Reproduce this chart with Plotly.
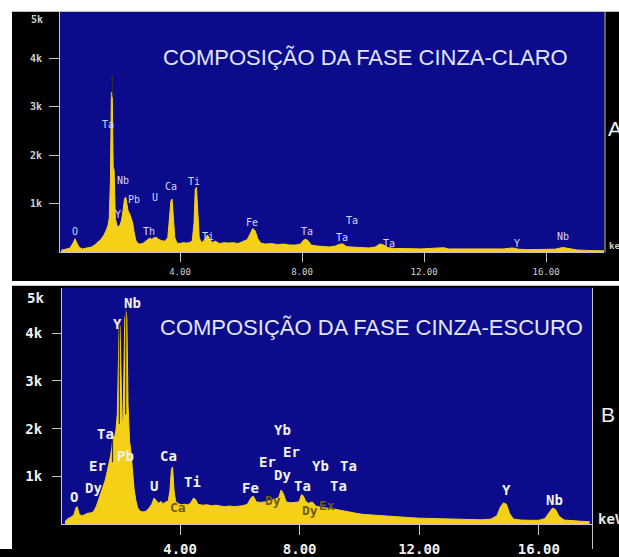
import plotly.graph_objects as go

W, H = 619, 557

# ---------------- data: spectrum A (fase cinza-claro) ----------------
a_energy = [0.10, 0.20, 0.30, 0.40, 0.50, 0.56, 0.62, 0.70, 0.80, 0.90, 1.00, 1.10, 1.20, 1.30,
            1.40, 1.50, 1.58, 1.64, 1.68, 1.72, 1.75, 1.78, 1.81, 1.84, 1.88, 1.93, 1.98, 2.03,
            2.08, 2.13, 2.18, 2.22, 2.26, 2.30, 2.35, 2.40, 2.45, 2.50, 2.55, 2.62, 2.70, 2.80,
            2.90, 3.00, 3.08, 3.15, 3.22, 3.30, 3.40, 3.50, 3.60, 3.66, 3.70, 3.74, 3.78, 3.83,
            3.90, 4.00, 4.10, 4.20, 4.30, 4.40, 4.46, 4.50, 4.54, 4.58, 4.63, 4.70, 4.80, 4.90,
            4.96, 5.05, 5.15, 5.30, 5.45, 5.60, 5.75, 5.90, 6.05, 6.20, 6.30, 6.38, 6.46, 6.55,
            6.65, 6.80, 7.00, 7.20, 7.40, 7.60, 7.80, 7.95, 8.05, 8.12, 8.20, 8.30, 8.50, 8.70,
            8.90, 9.10, 9.25, 9.35, 9.45, 9.60, 9.80, 10.00, 10.20, 10.40, 10.55, 10.65, 10.80,
            11.00, 11.30, 11.60, 11.90, 12.20, 12.50, 12.65, 12.80, 13.10, 13.40, 13.70, 14.00,
            14.30, 14.60, 14.90, 15.10, 15.40, 15.70, 16.00, 16.30, 16.55, 16.75, 17.00, 17.30,
            17.60, 17.90]
a_counts = [40, 60, 70, 90, 200, 280, 190, 100, 70, 80, 90, 110, 150, 200,
            260, 350, 450, 560, 700, 1500, 3300, 3250, 1750, 1700, 700, 560, 530, 560,
            650, 850, 1100, 1140, 1000, 850, 800, 700, 600, 400, 250, 180, 170, 190,
            250, 290, 270, 300, 310, 270, 240, 230, 300, 700, 1050, 1100, 700, 300,
            190, 180, 200, 190, 200, 230, 600, 1300, 1340, 800, 300, 200, 250, 360,
            300, 200, 230, 180, 200, 190, 200, 180, 220, 260, 380, 490, 450, 280,
            190, 170, 180, 160, 170, 150, 150, 170, 250, 270, 240, 150, 130, 120,
            110, 130, 170, 170, 120, 110, 100, 90, 90, 110, 170, 160, 100,
            80, 70, 75, 70, 80, 100, 95, 70, 70, 60, 65, 60,
            60, 70, 90, 65, 55, 60, 60, 65, 100, 80, 50, 40,
            35, 30]

# ---------------- data: spectrum B (fase cinza-escuro) ----------------
b_energy = [0.15, 0.25, 0.35, 0.45, 0.52, 0.56, 0.62, 0.70, 0.80, 0.90, 1.00, 1.10, 1.20, 1.28,
            1.35, 1.42, 1.50, 1.56, 1.62, 1.68, 1.72, 1.76, 1.80, 1.85, 1.90, 1.93, 1.96, 1.99,
            2.02, 2.06, 2.09, 2.12, 2.15, 2.19, 2.22, 2.26, 2.31, 2.36, 2.41, 2.46, 2.52, 2.58,
            2.65, 2.75, 2.85, 2.95, 3.05, 3.13, 3.20, 3.28, 3.36, 3.44, 3.52, 3.60, 3.66, 3.71,
            3.75, 3.80, 3.85, 3.95, 4.05, 4.15, 4.25, 4.35, 4.45, 4.52, 4.60, 4.75, 4.90, 5.05,
            5.20, 5.35, 5.50, 5.65, 5.80, 5.95, 6.10, 6.25, 6.38, 6.45, 6.55, 6.70, 6.85, 7.00,
            7.15, 7.30, 7.38, 7.45, 7.55, 7.70, 7.85, 7.98, 8.06, 8.12, 8.20, 8.30, 8.42, 8.55,
            8.70, 8.85, 9.00, 9.15, 9.30, 9.50, 9.70, 9.90, 10.10, 10.30, 10.50, 10.80, 11.10,
            11.40, 11.70, 12.00, 12.30, 12.60, 12.90, 13.20, 13.50, 13.80, 14.10, 14.40, 14.60,
            14.72, 14.82, 14.92, 15.02, 15.15, 15.40, 15.70, 16.00, 16.20, 16.35, 16.46, 16.56,
            16.68, 16.85, 17.10, 17.40, 17.70]
b_counts = [60, 120, 150, 200, 350, 370, 220, 180, 200, 230, 240, 260, 380, 520,
            650, 800, 930, 1100, 1250, 1450, 1620, 1850, 1800, 1950, 2300, 3500, 4100, 4150,
            3000, 2200, 2100, 3000, 4300, 4450, 4300, 2500, 1750, 1500, 1100, 750, 500, 350,
            280, 260, 270, 330, 420, 550, 500, 440, 480, 430, 470, 480, 700, 1150,
            1200, 700, 480, 430, 410, 420, 410, 440, 550, 520, 420, 400, 410, 390,
            400, 380, 370, 385, 370, 380, 390, 420, 560, 590, 470, 460, 470, 500,
            520, 560, 720, 650, 470, 450, 460, 470, 620, 600, 480, 440, 470, 380,
            360, 340, 330, 320, 300, 270, 250, 230, 210, 200, 185, 170, 160,
            150, 140, 130, 125, 120, 110, 105, 100, 95, 95, 110, 180,
            370, 450, 420, 230, 110, 90, 85, 85, 120, 260, 340, 310,
            170, 90, 75, 65, 55]

# element marker lines (energy, top count)
a_marker_e = [1.78]
a_marker_top = [3640]
b_marker_e = [1.74, 1.97, 2.18]
b_marker_top = [1900, 4300, 4670]
b_marker_base = [1300, 2100, 2300]

# peak labels (element, energy keV, counts)
a_labels = [("O", 0.56, 427), ("Ta", 1.64, 2642), ("Nb", 2.13, 1484), ("Y", 1.97, 772),
            ("Pb", 2.48, 1098), ("U", 3.18, 1138), ("Ca", 3.70, 1362), ("Ti", 4.46, 1463),
            ("Th", 2.98, 427), ("Ti", 4.92, 325), ("Fe", 6.36, 610), ("Ta", 8.16, 427),
            ("Ta", 9.64, 650), ("Ta", 9.31, 305), ("Ta", 10.85, 183), ("Y", 15.05, 183),
            ("Nb", 16.56, 325)]
b_labels = [("O", 0.45, 576), ("Dy", 1.12, 761), ("Er", 1.25, 1214), ("Ta", 1.52, 1893),
            ("Pb", 2.16, 1440), ("Y", 1.89, 4198), ("Nb", 2.42, 4630), ("Ca", 3.62, 1440),
            ("U", 3.13, 802), ("Ti", 4.43, 885), ("Fe", 6.34, 761), ("Er", 6.91, 1296),
            ("Yb", 7.41, 1975), ("Er", 7.74, 1523), ("Dy", 7.44, 1029), ("Ta", 8.11, 802),
            ("Yb", 8.71, 1214), ("Ta", 9.62, 1214), ("Ta", 9.31, 802), ("Y", 14.93, 720),
            ("Nb", 16.54, 514)]
b_labels_dark = [("Ca", 3.93, 350), ("Dy", 7.11, 494), ("Dy", 8.34, 288), ("Ex", 8.91, 391)]

x_ticks = [4, 8, 12, 16]
x_ticktext = ["4.00", "8.00", "12.00", "16.00"]
y_ticks = [1000, 2000, 3000, 4000]
y_ticktext = ["1k", "2k", "3k", "4k"]

BLUE = "#0b0b8c"
YELLOW = "#f4d117"
DARK = "#3b3420"
GRAY = "#c4c4c4"

def px(x):
    return x / W

def py(y):
    return 1 - y / H

fig = go.Figure()
fig.add_trace(go.Scatter(x=a_energy, y=a_counts, mode="lines", fill="tozeroy",
                         line=dict(color=YELLOW, width=1), fillcolor=YELLOW,
                         xaxis="x", yaxis="y", hoverinfo="skip"))
fig.add_trace(go.Scatter(x=b_energy, y=b_counts, mode="lines", fill="tozeroy",
                         line=dict(color=YELLOW, width=1), fillcolor=YELLOW,
                         xaxis="x2", yaxis="y2", hoverinfo="skip"))

mx, my = [], []
for e, t in zip(a_marker_e, a_marker_top):
    mx += [e, e, None]
    my += [3200, t, None]
fig.add_trace(go.Scatter(x=mx, y=my, mode="lines", line=dict(color=DARK, width=1),
                         xaxis="x", yaxis="y", hoverinfo="skip"))
mx, my = [], []
for e, t, b in zip(b_marker_e, b_marker_top, b_marker_base):
    mx += [e, e, None]
    my += [b, t, None]
fig.add_trace(go.Scatter(x=mx, y=my, mode="lines", line=dict(color=DARK, width=1.2),
                         xaxis="x2", yaxis="y2", hoverinfo="skip"))

annotations = []
for name, e, c in a_labels:
    annotations.append(dict(text=name, x=e, y=c, xref="x", yref="y", showarrow=False,
                            xanchor="center", yanchor="middle",
                            font=dict(family="DejaVu Sans Mono", size=10, color="#d4d8ff")))
for name, e, c in b_labels:
    annotations.append(dict(text="<b>%s</b>" % name, x=e, y=c, xref="x2", yref="y2", showarrow=False,
                            xanchor="center", yanchor="middle",
                            font=dict(family="DejaVu Sans Mono", size=14, color="#f2f2ea")))
for name, e, c in b_labels_dark:
    annotations.append(dict(text="<b>%s</b>" % name, x=e, y=c, xref="x2", yref="y2", showarrow=False,
                            xanchor="center", yanchor="middle",
                            font=dict(family="DejaVu Sans Mono", size=13, color="#6b5a10")))

def note(text, x, y, size, color, family="Liberation Sans", xanchor="center"):
    return dict(text=text, x=px(x), y=py(y), xref="paper", yref="paper", showarrow=False,
                xanchor=xanchor, yanchor="middle", font=dict(family=family, size=size, color=color))

annotations += [
    note("COMPOSIÇÃO DA FASE CINZA-CLARO", 365, 58, 22, "#e2e6f6"),
    note("COMPOSIÇÃO DA FASE CINZA-ESCURO", 371, 332, 22, "#e2e6f6"),
    note("A", 606, 130, 21, "#f2f2f2", xanchor="left"),
    note("B", 599, 421, 21, "#f2f2f2", xanchor="left"),
    note("<b>keV</b>", 607, 250, 9, "#d0d0d0", family="DejaVu Sans Mono", xanchor="left"),
    note("<b>keV</b>", 596, 527, 14, "#e8e8e8", family="DejaVu Sans Mono", xanchor="left"),
    note("<b>5k</b>", 37, 20, 10, "#d0d0d0", family="DejaVu Sans Mono"),
    note("<b>5k</b>", 35, 302, 14, "#f0f0f0", family="DejaVu Sans Mono"),
]

shapes = [
    # white margins (paper background is black)
    dict(type="rect", xref="paper", yref="paper", x0=0, x1=1, y0=py(12), y1=1,
         fillcolor="white", line=dict(width=0), layer="below"),
    dict(type="rect", xref="paper", yref="paper", x0=0, x1=px(12), y0=0, y1=1,
         fillcolor="white", line=dict(width=0), layer="below"),
    dict(type="rect", xref="paper", yref="paper", x0=px(12), x1=1, y0=py(290), y1=py(285),
         fillcolor="white", line=dict(width=0), layer="below"),
    # frame lines
    dict(type="line", xref="paper", yref="paper", x0=px(605), x1=px(605), y0=py(256), y1=py(12),
         line=dict(color=GRAY, width=1)),
    dict(type="line", xref="paper", yref="paper", x0=px(592.5), x1=px(592.5), y0=0, y1=py(292),
         line=dict(color=GRAY, width=1)),
]

tick_common = dict(showgrid=False, zeroline=False, ticks="outside", tickcolor=GRAY,
                   showline=True, linecolor=GRAY, linewidth=1, fixedrange=True)

fig.update_layout(
    width=W, height=H, margin=dict(l=0, r=0, t=0, b=0),
    paper_bgcolor="black", plot_bgcolor=BLUE, showlegend=False,
    xaxis=dict(domain=[px(60), px(604)], range=[0.066, 17.9], anchor="y",
               tickvals=x_ticks, ticktext=x_ticktext, ticklen=9, ticklabelstandoff=2,
               tickfont=dict(family="DejaVu Sans Mono", size=9, color="#d0d0d0"), **tick_common),
    yaxis=dict(domain=[py(256), py(12)], range=[0, 4960], anchor="x",
               tickvals=y_ticks, ticktext=["<b>%s</b>" % t for t in y_ticktext], ticklen=10,
               ticklabelstandoff=5,
               tickfont=dict(family="DejaVu Sans Mono", size=10, color="#d0d0d0"), **tick_common),
    xaxis2=dict(domain=[px(62), px(592)], range=[0.05, 17.78], anchor="y2",
                tickvals=x_ticks, ticktext=["<b>%s</b>" % t for t in x_ticktext], ticklen=10,
                ticklabelstandoff=2,
                tickfont=dict(family="DejaVu Sans Mono", size=14, color="#f0f0f0"), **tick_common),
    yaxis2=dict(domain=[py(532), py(292)], range=[0, 4950], anchor="x2",
                tickvals=y_ticks, ticktext=["<b>%s</b>" % t for t in y_ticktext], ticklen=9,
                ticklabelstandoff=7,
                tickfont=dict(family="DejaVu Sans Mono", size=14, color="#f0f0f0"), **tick_common),
    annotations=annotations,
    shapes=shapes,
)

fig.write_html("out.html", config={"displayModeBar": False},
               post_script="document.body.style.margin='0px';document.body.style.overflow='hidden';")
